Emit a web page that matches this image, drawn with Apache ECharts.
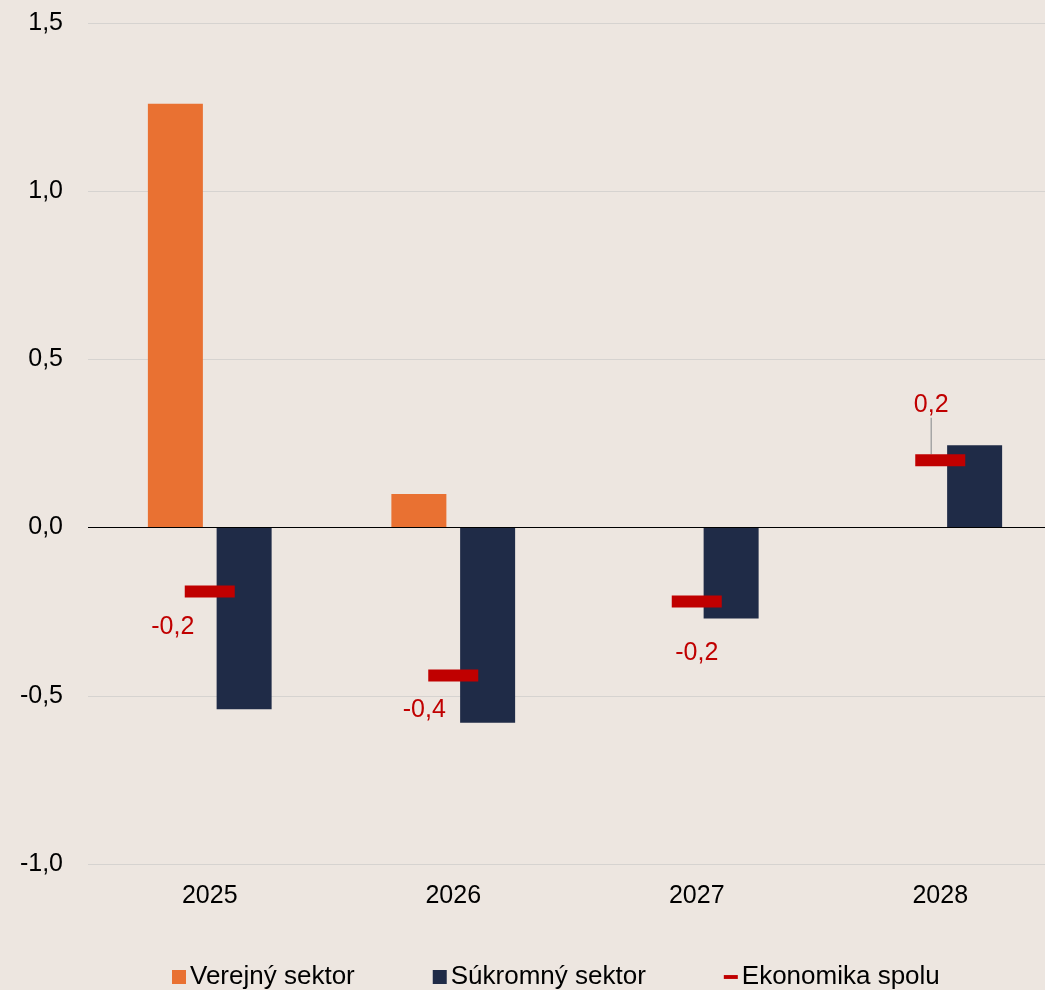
<!DOCTYPE html>
<html>
<head>
<meta charset="utf-8">
<script src="https://cdn.jsdelivr.net/npm/echarts@6/dist/echarts.min.js"></script>
<style>
  html, body { margin: 0; padding: 0; background: #ede6e0; overflow: hidden; }
  /* graf je vpravo orezaný, preto je plátno širšie ako okno */
  #main { width: 1062px; height: 990px; }
</style>
</head>
<body>
<div id="main"></div>
<script>
// kategórie a hodnoty
const years = ['2025', '2026', '2027', '2028'];
const verejny = [1.26, 0.1, 0, 0];
const sukromny = [-0.54, -0.58, -0.27, 0.245];
const ekonomika = [-0.19, -0.44, -0.22, 0.2];
// posun popiskov pre Ekonomika spolu
const labelShift = [[-37, 36], [-29, 34], [0, 52], [-9, -55]];

const fmt = v => v.toFixed(1).replace('.', ',');

var myChart = echarts.init(document.getElementById('main'));

var option = {
    backgroundColor: '#ede6e0',
    textStyle: { fontFamily: 'Liberation Sans, Arial, sans-serif' },
    grid: { left: 88, right: 0, top: 23, bottom: 126 },
    legend: {
        top: 964,
        left: 172,
        padding: 0,
        itemWidth: 14,
        itemHeight: 14,
        itemGap: 78,
        textStyle: { fontSize: 26, color: '#000', padding: [0, 0, 0, -1] },
        data: [
            { name: 'Verejný sektor', icon: 'rect' },
            { name: 'Súkromný sektor', icon: 'rect' },
            { name: 'Ekonomika spolu', icon: 'path://M0,0L18,0L18,5L0,5Z' }
        ]
    },
    xAxis: {
        type: 'category',
        data: years,
        axisLine: { show: false },
        axisTick: { show: false },
        axisLabel: { fontSize: 25, color: '#000', margin: 20 }
    },
    yAxis: {
        type: 'value',
        min: -1,
        max: 1.5,
        interval: 0.5,
        axisLabel: { fontSize: 25, color: '#000', margin: 25, formatter: fmt },
        splitLine: { lineStyle: { color: '#d6d3d0', width: 1 } }
    },
    series: [
        {
            name: 'Verejný sektor',
            type: 'bar',
            data: verejny,
            barWidth: 55,
            barGap: '25%',
            itemStyle: { color: '#e97132' },
            markLine: {
                silent: true,
                symbol: 'none',
                label: { show: false },
                lineStyle: { color: '#000', width: 1, type: 'solid' },
                data: [{ yAxis: 0 }]
            }
        },
        {
            name: 'Súkromný sektor',
            type: 'bar',
            data: sukromny,
            barWidth: 55,
            itemStyle: { color: '#1f2b47' }
        },
        {
            name: 'Ekonomika spolu',
            type: 'scatter',
            symbol: 'rect',
            symbolSize: [50, 12],
            z: 5,
            itemStyle: { color: '#c00000', opacity: 1 },
            data: ekonomika.map((v, i) => i === 3
                ? { value: v, labelLine: { show: true } }
                : { value: v }),
            label: {
                show: true,
                position: 'inside',
                fontSize: 25,
                color: '#c00000',
                formatter: p => fmt(p.value)
            },
            labelLayout: p => ({ dx: labelShift[p.dataIndex][0], dy: labelShift[p.dataIndex][1] }),
            labelLine: {
                show: false,
                lineStyle: { color: '#a6a6a6', width: 1.5 }
            }
        }
    ]
};

myChart.setOption(option);
</script>
</body>
</html>
